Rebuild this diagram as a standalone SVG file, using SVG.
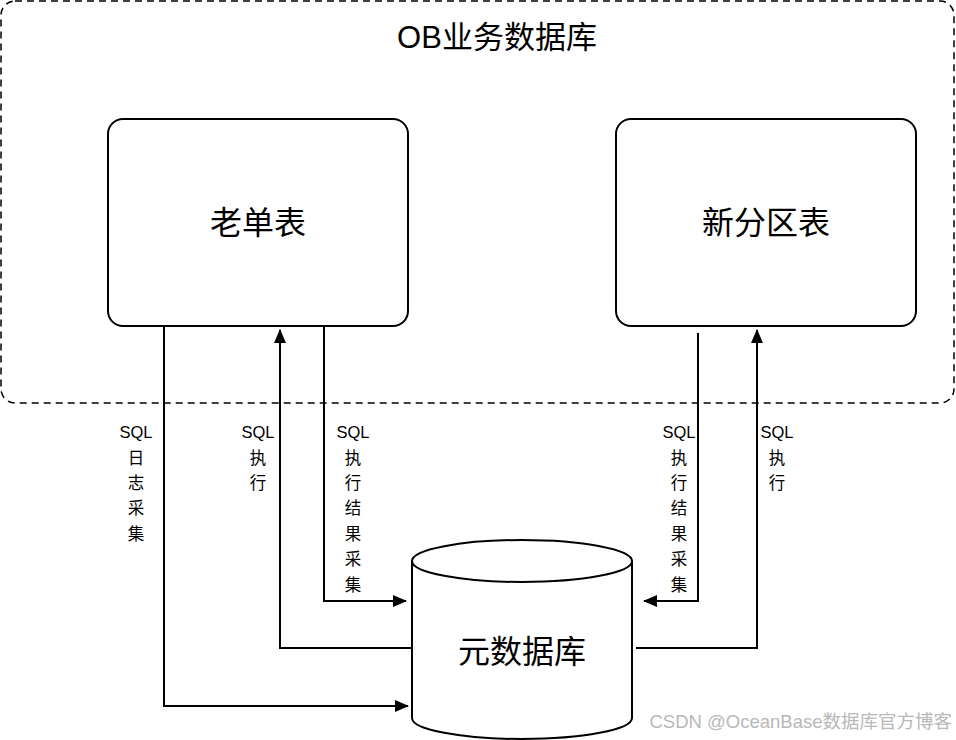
<svg xmlns="http://www.w3.org/2000/svg" width="956" height="740" viewBox="0 0 956 740">
<style>
.f{font-family:"Liberation Sans","Noto Sans CJK SC",sans-serif;fill:#000;text-anchor:middle}
.box{fill:#fff;stroke:#000;stroke-width:2}
.lbl{font-size:16.5px}
.ln{fill:none;stroke:#000;stroke-width:2}
</style>
<defs>
<marker id="ah" viewBox="0 0 14 12" refX="13" refY="6" markerWidth="14" markerHeight="12" markerUnits="userSpaceOnUse" orient="auto">
<path d="M0,0 L14,6 L0,12 Z" fill="#000"/>
</marker>
</defs>
<rect width="956" height="740" fill="#fff"/>
<g id="ob-db">
<rect x="1" y="1" width="953" height="402" rx="14" fill="none" stroke="#000" stroke-width="1.5" stroke-dasharray="7,5"/>
<text class="f" x="497" y="48" font-size="31">OB业务数据库</text>
</g>
<g id="old-table">
<rect class="box" x="108" y="119" width="300" height="207" rx="15"/>
<text class="f" x="258" y="234" font-size="32">老单表</text>
</g>
<g id="new-table">
<rect class="box" x="616" y="119" width="300" height="207" rx="15"/>
<text class="f" x="766" y="234" font-size="32">新分区表</text>
</g>
<g id="meta-db">
<path class="box" d="M412,561 A110,21 0 0 1 632,561 L632,718 A110,21 0 0 1 412,718 Z"/>
<path class="ln" d="M412,561 A110,21 0 0 0 632,561"/>
<text class="f" x="522" y="663" font-size="32">元数据库</text>
</g>
<g id="connectors">
<polyline class="ln" points="164,326 164,706 408,706" marker-end="url(#ah)"/>
<polyline class="ln" points="412,648 280,648 280,330" marker-end="url(#ah)"/>
<polyline class="ln" points="324,326 324,601 406,601" marker-end="url(#ah)"/>
<polyline class="ln" points="698,333 698,601 644,601" marker-end="url(#ah)"/>
<polyline class="ln" points="636,648 757,648 757,330" marker-end="url(#ah)"/>
</g>
<g id="labels" class="f lbl">
<text x="136" y="438">SQL</text><text x="136" y="464">日</text><text x="136" y="489">志</text><text x="136" y="514">采</text><text x="136" y="540">集</text>
<text x="258" y="438">SQL</text><text x="258" y="464">执</text><text x="258" y="489">行</text>
<text x="353" y="438">SQL</text><text x="353" y="464">执</text><text x="353" y="489">行</text><text x="353" y="514">结</text><text x="353" y="540">果</text><text x="353" y="565">采</text><text x="353" y="591">集</text>
<text x="679" y="438">SQL</text><text x="679" y="464">执</text><text x="679" y="489">行</text><text x="679" y="514">结</text><text x="679" y="540">果</text><text x="679" y="565">采</text><text x="679" y="591">集</text>
<text x="777" y="438">SQL</text><text x="777" y="464">执</text><text x="777" y="489">行</text>
</g>
<text x="952" y="728" font-family="Liberation Sans,'Noto Sans CJK SC',sans-serif" font-size="18.5" fill="#b8b8b8" text-anchor="end">CSDN @OceanBase数据库官方博客</text>
</svg>
